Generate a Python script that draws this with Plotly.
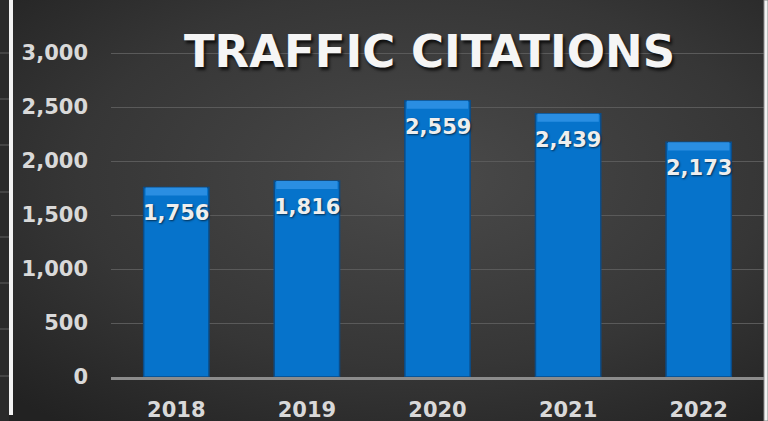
import base64
import plotly.graph_objects as go

years = ["2018", "2019", "2020", "2021", "2022"]
citations = [1756, 1816, 2559, 2439, 2173]
y_ticks = [0, 500, 1000, 1500, 2000, 2500, 3000]
y_tick_labels = ["0", "500", "1,000", "1,500", "2,000", "2,500", "3,000"]
title_text = "TRAFFIC CITATIONS"

W, H = 768, 421
ML, MR, MT, MB = 111, 4, 52, 44
PW, PH = W - ML - MR, H - MT - MB
Y_MAX = 3010

svg = f'''<svg xmlns="http://www.w3.org/2000/svg" width="{W}" height="{H}" viewBox="0 0 {W} {H}" preserveAspectRatio="none">
<defs><radialGradient id="g" cx="0.55" cy="0.42" r="0.75">
<stop offset="0" stop-color="#4a4a4a"/><stop offset="0.6" stop-color="#363636"/><stop offset="1" stop-color="#222222"/>
</radialGradient></defs>
<rect width="{W}" height="{H}" fill="url(#g)"/></svg>'''
svg_uri = "data:image/svg+xml;base64," + base64.b64encode(svg.encode()).decode()

bevel = 75
fig = go.Figure()
fig.add_trace(go.Bar(
    x=years, y=citations,
    marker=dict(color="#0673CB", line=dict(color="#0B4C88", width=1.5)),
    hoverinfo="skip",
))
fig.add_trace(go.Bar(
    x=years, y=[bevel] * len(citations), base=[v - bevel for v in citations],
    marker=dict(color="#2A8EE2", line=dict(color="#0B4C88", width=0)),
    width=0.47, hoverinfo="skip",
))

for i, v in enumerate(citations):
    fig.add_annotation(
        x=i, y=v, text=f"{v:,}", showarrow=False, yshift=-26,
        font=dict(family="DejaVu Sans", size=21, color="#eeeeee", weight="bold",
                  shadow="1px 1px 2px rgba(0,0,0,0.6)"),
    )

# left decoration: neighbouring panel edge and white stripe
fig.add_shape(type="rect", xref="paper", yref="paper",
              x0=-ML / PW, x1=-(ML - 9) / PW, y0=-MB / PH, y1=1 + MT / PH,
              fillcolor="#2a2a2a", line_width=0, layer="below")
for py in [53, 99, 145, 192, 237, 283, 329, 376]:
    fig.add_shape(type="line", xref="paper", yref="paper",
                  x0=-ML / PW, x1=-(ML - 9) / PW,
                  y0=(H - MB - py) / PH, y1=(H - MB - py) / PH,
                  line=dict(color="#5e5e5e", width=1), layer="below")
fig.add_shape(type="rect", xref="paper", yref="paper",
              x0=-(ML - 9) / PW, x1=-(ML - 13) / PW, y0=-(MB - 6) / PH, y1=1 + MT / PH,
              fillcolor="#f2f2f2", line_width=0, layer="above")
fig.add_shape(type="rect", xref="paper", yref="paper",
              x0=1, x1=1 + MR / PW, y0=-MB / PH, y1=1 + MT / PH,
              fillcolor="#f2f2f2", line=dict(color="#8a8a8a", width=1), layer="above")

fig.update_layout(
    width=W, height=H,
    margin=dict(l=ML, r=MR, t=MT, b=MB, pad=0, autoexpand=False),
    paper_bgcolor="#333333", plot_bgcolor="rgba(0,0,0,0)",
    barmode="overlay", bargap=0.5, showlegend=False,
    images=[dict(source=svg_uri, xref="paper", yref="paper",
                 x=-ML / PW, y=1 + MT / PH, sizex=W / PW, sizey=H / PH,
                 xanchor="left", yanchor="top", sizing="stretch", layer="below")],
    title=dict(text=title_text, xref="container", yref="container",
               x=429.5 / W, y=1 - 51 / H, xanchor="center", yanchor="middle",
               font=dict(family="DejaVu Sans", size=45, color="#f5f5f5", weight="bold",
                         shadow="2px 3px 3px rgba(0,0,0,0.75)")),
    font=dict(family="DejaVu Sans"),
)
fig.update_yaxes(
    range=[0, Y_MAX], tickvals=y_ticks, ticktext=y_tick_labels,
    showgrid=True, gridcolor="#5a5a5a", gridwidth=1, automargin=False,
    zeroline=False, showline=False, ticks="", ticklabelstandoff=22,
    tickfont=dict(family="DejaVu Sans", size=21, color="#d9d9d9", weight="bold"),
    fixedrange=True,
)
fig.update_xaxes(
    type="category", automargin=False, range=[-0.5, len(years) - 0.5],
    showline=True, linecolor="#8c8c8c", linewidth=2.5, showgrid=False,
    ticks="", ticklabelstandoff=12,
    tickfont=dict(family="DejaVu Sans", size=21, color="#d9d9d9", weight="bold"),
    fixedrange=True,
)
fig.write_html("out.html", config={"displayModeBar": False, "staticPlot": True},
               post_script="document.body.style.margin='0';")
